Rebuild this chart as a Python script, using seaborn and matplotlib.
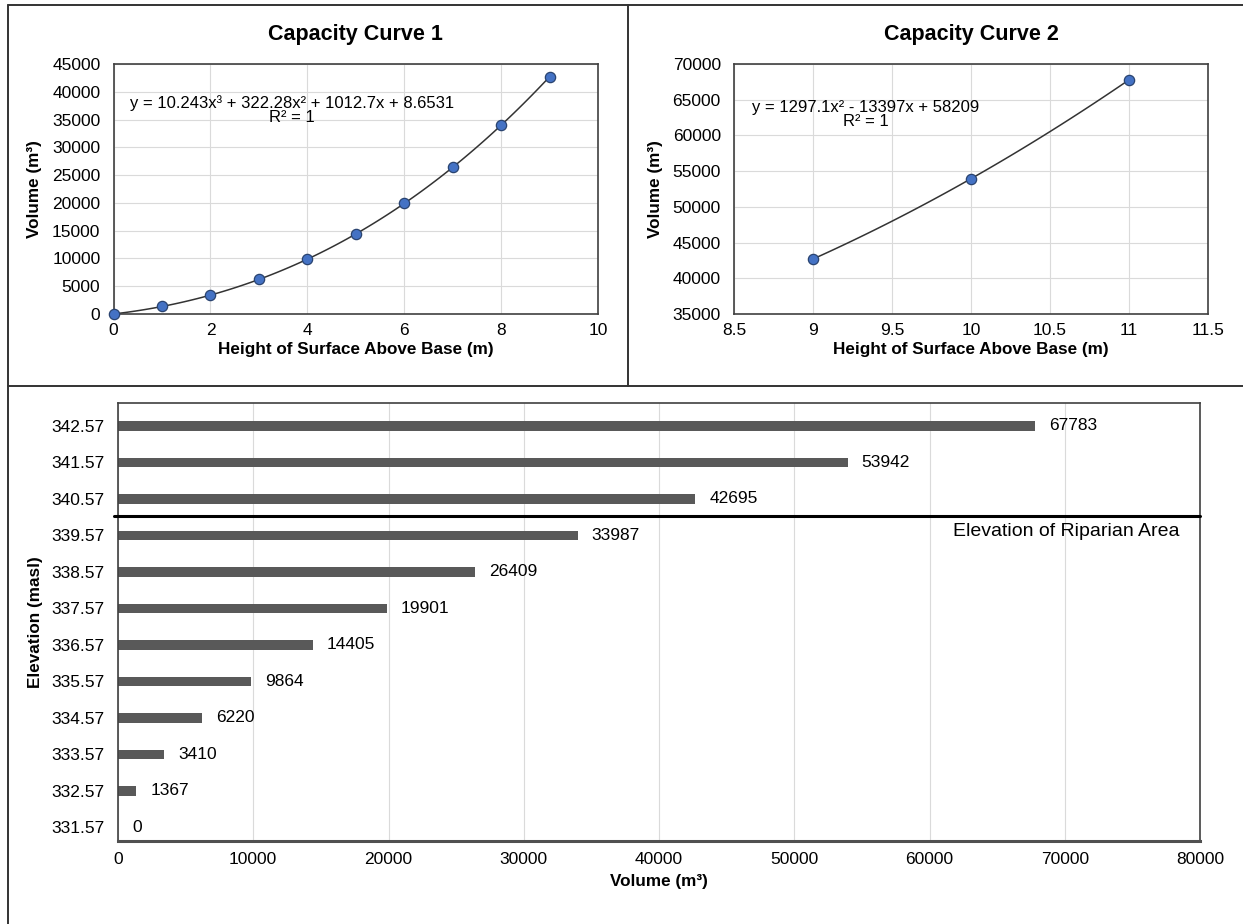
import numpy as np
import pandas as pd
import matplotlib
matplotlib.use("Agg")
import matplotlib.pyplot as plt
from matplotlib.lines import Line2D
import seaborn as sns

# ---------------- data ----------------
height1 = [0, 1, 2, 3, 4, 5, 6, 7, 8, 9]
volume1 = [0, 1367, 3410, 6220, 9864, 14405, 19901, 26409, 33987, 42695]
height2 = [9, 10, 11]
volume2 = [42695, 53942, 67783]
elevations = ["342.57", "341.57", "340.57", "339.57", "338.57", "337.57",
              "336.57", "335.57", "334.57", "333.57", "332.57", "331.57"]
volumes = [67783, 53942, 42695, 33987, 26409, 19901, 14405, 9864, 6220, 3410, 1367, 0]
eq1 = "y = 10.243x³ + 322.28x² + 1012.7x + 8.6531\nR² = 1"
eq2 = "y = 1297.1x² - 13397x + 58209\nR² = 1"
riparian_label = "Elevation of Riparian Area"

sns.set_theme(style="white")
plt.rcParams['font.family'] = ['Liberation Sans', 'DejaVu Sans']
plt.rcParams.update({"text.color": "black", "axes.labelcolor": "black",
                     "xtick.color": "black", "ytick.color": "black"})

W, H = 1243, 924
fig = plt.figure(figsize=(W / 100, H / 100), dpi=100)

def fx(px):
    return px / W

def fy(py):
    return 1 - py / H

SPINE = "#404040"
GRID = "#DADADA"
MARK = "#4472C4"
TICK_FS = 12.5
LAB_FS = 12.3


def style_axes(ax):
    for s in ax.spines.values():
        s.set_color(SPINE)
        s.set_linewidth(1.2)
    ax.tick_params(axis="both", length=0, labelsize=TICK_FS, colors="black")
    ax.tick_params(axis="y", pad=9.5)
    ax.tick_params(axis="x", pad=6.5)
    ax.grid(True, color=GRID, linewidth=0.8)
    ax.set_axisbelow(True)


# ---------------- Capacity Curve 1 ----------------
ax1 = fig.add_axes([fx(113.6), fy(314), fx(598) - fx(113.6), fy(64) - fy(314)])
df1 = pd.DataFrame({"h": height1, "v": volume1})
sns.regplot(data=df1, x="h", y="v", order=3, ci=None, scatter=False, ax=ax1,
            line_kws=dict(color="#333333", lw=1.1))
sns.scatterplot(data=df1, x="h", y="v", ax=ax1, s=55, color=MARK,
                edgecolor="#2A4470", linewidth=0.9, zorder=5, clip_on=False)
ax1.set_xlim(0, 10)
ax1.set_ylim(0, 45000)
ax1.set_xticks(np.arange(0, 11, 2))
ax1.set_yticks(np.arange(0, 45001, 5000))
style_axes(ax1)
ax1.set_title("Capacity Curve 1", fontsize=15.5, fontweight="bold", pad=17, color="black")
ax1.set_xlabel("Height of Surface Above Base (m)", fontsize=LAB_FS, fontweight="bold", labelpad=3)
ax1.set_ylabel("Volume (m³)", fontsize=LAB_FS, fontweight="bold", labelpad=7)
ax1.text(3.68, 36700, eq1, ha="center", va="center", multialignment="center",
         fontsize=12, linespacing=0.95)

# ---------------- Capacity Curve 2 ----------------
ax2 = fig.add_axes([fx(734), fy(314), fx(1208) - fx(734), fy(64) - fy(314)])
df2 = pd.DataFrame({"h": height2, "v": volume2})
sns.regplot(data=df2, x="h", y="v", order=2, ci=None, scatter=False, ax=ax2,
            line_kws=dict(color="#333333", lw=1.1))
sns.scatterplot(data=df2, x="h", y="v", ax=ax2, s=55, color=MARK,
                edgecolor="#2A4470", linewidth=0.9, zorder=5, clip_on=False)
ax2.set_xlim(8.5, 11.5)
ax2.set_ylim(35000, 70000)
ax2.set_xticks(np.arange(8.5, 11.51, 0.5))
ax2.set_xticklabels(["8.5", "9", "9.5", "10", "10.5", "11", "11.5"])
ax2.set_yticks(np.arange(35000, 70001, 5000))
style_axes(ax2)
ax2.set_title("Capacity Curve 2", fontsize=15.5, fontweight="bold", pad=17, color="black")
ax2.set_xlabel("Height of Surface Above Base (m)", fontsize=LAB_FS, fontweight="bold", labelpad=3)
ax2.set_ylabel("Volume (m³)", fontsize=LAB_FS, fontweight="bold", labelpad=7)
ax2.text(9.335, 62900, eq2, ha="center", va="center", multialignment="center",
         fontsize=12, linespacing=0.95)

# ---------------- Bar chart ----------------
ax3 = fig.add_axes([fx(118), fy(841), fx(1200) - fx(118), fy(403) - fy(841)])
df3 = pd.DataFrame({"elev": elevations, "vol": volumes})
sns.barplot(data=df3, y="elev", x="vol", orient="h", order=elevations,
            color="#595959", width=0.25, saturation=1, ax=ax3,
            edgecolor="#595959", linewidth=0)
ax3.set_xlim(0, 80000)
ax3.set_ylim(11.37, -0.63)
ax3.set_xticks(np.arange(0, 80001, 10000))
for s in ax3.spines.values():
    s.set_color(SPINE)
    s.set_linewidth(1.2)
ax3.spines["bottom"].set_linewidth(2.2)
ax3.spines["bottom"].set_color("#505050")
ax3.tick_params(axis="both", length=0, labelsize=TICK_FS, colors="black")
ax3.tick_params(axis="y", pad=9.5)
ax3.tick_params(axis="x", pad=8)
ax3.grid(True, axis="x", color=GRID, linewidth=0.8)
ax3.grid(False, axis="y")
ax3.set_axisbelow(True)
ax3.bar_label(ax3.containers[0], labels=[str(v) for v in volumes], padding=10,
              fontsize=12.5, color="black")
ax3.set_xlabel("Volume (m³)", fontsize=LAB_FS, fontweight="bold", labelpad=5)
ax3.set_ylabel("Elevation (masl)", fontsize=LAB_FS, fontweight="bold", labelpad=6)
ax3.axhline(2.47, xmin=-0.004, xmax=1.0, color="black", lw=2.2, clip_on=False, zorder=6)
ax3.text(78500, 2.88, riparian_label, ha="right", va="center", fontsize=14)

# ---------------- panel borders ----------------
BCOL = "#333333"
for xs, ys in [([fx(8), 1], [fy(5), fy(5)]),
               ([fx(8), fx(8)], [0, fy(5)]),
               ([fx(628), fx(628)], [fy(386), fy(5)]),
               ([fx(8), 1], [fy(386), fy(386)])]:
    fig.add_artist(Line2D(xs, ys, color=BCOL, lw=1.4, transform=fig.transFigure))

fig.savefig("out.png", dpi=100, facecolor="white")
